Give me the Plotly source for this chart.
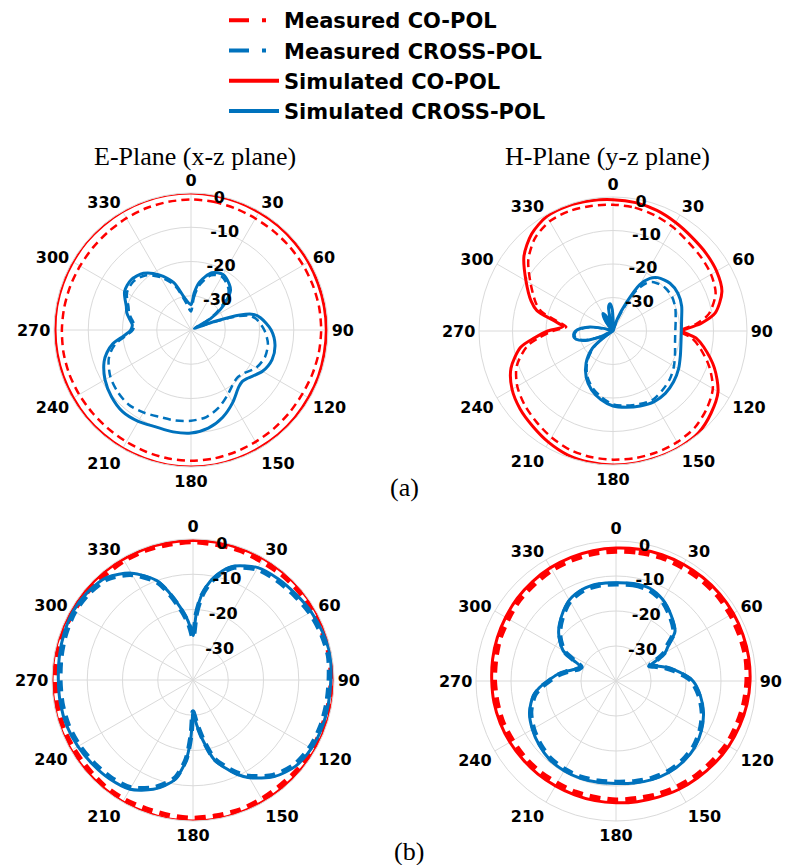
import plotly.graph_objects as go

W, H = 788, 865
RED = "#FF0000"
BLUE = "#0072BD"
GRID = "#DADADA"

# ---------------- data ----------------
ang_ticks = [0, 30, 60, 90, 120, 150, 180, 210, 240, 270, 300, 330]
ang_labels = ["0", "30", "60", "90", "120", "150", "180", "210", "240", "270", "300", "330"]
r_ticks = [-30, -20, -10, 0]
r_labels = ["-30", "-20", "-10", "0"]

theta_10 = [0, 10, 20, 30, 40, 50, 60, 70, 80, 90, 100, 110, 120, 130, 140, 150, 160, 170, 180,
            190, 200, 210, 220, 230, 240, 250, 260, 270, 280, 290, 300, 310, 320, 330, 340, 350, 360]

# (a) E-plane
ea_sim_co = [0, -0.1, -0.2, -0.3, -0.3, -0.4, -0.4, -0.5, -0.5, -0.5, -0.5, -0.4, -0.4, -0.3, -0.2, -0.2, -0.1, 0, 0,
             0, -0.1, -0.1, -0.2, -0.2, -0.3, -0.3, -0.3, -0.3, -0.2, -0.2, -0.2, -0.1, -0.1, 0, 0, 0, 0]
ea_meas_co = [-1.9, -2.0, -2.2, -2.4, -2.4, -2.3, -2.2, -2.1, -2.0, -2.0, -2.1, -2.3, -2.5, -2.5, -2.4, -2.3, -2.1, -1.9, -1.8,
              -1.9, -2.1, -2.3, -2.4, -2.4, -2.3, -2.2, -2.2, -2.3, -2.4, -2.5, -2.6, -2.6, -2.5, -2.3, -2.1, -2.0, -1.9]
ea_theta_x = [0, 5, 10, 20, 30, 40, 45, 50, 55, 60, 65, 70, 73, 76, 80, 90, 100, 110, 120, 130, 135, 140, 150, 160,
              170, 180, 190, 200, 210, 220, 230, 240, 250, 255, 260, 265, 270, 275, 280, 285, 290, 300, 310, 320,
              330, 340, 350, 360]
ea_sim_x = [-32.6, -29.0, -25.8, -22.2, -21.3, -22.6, -23.7, -26.3, -29.5, -33.5, -38.5, -33.0, -25.0, -21.2, -19.4,
            -16.6, -15.1, -14.8, -15.9, -18.2, -18.8, -18.3, -15.6, -12.9, -10.9, -9.9, -9.8, -9.9, -9.2, -8.9, -9.7,
            -11.0, -13.0, -14.6, -16.8, -20.3, -22.4, -22.8, -21.8, -20.6, -19.9, -17.6, -17.2, -18.4, -21.4, -25.3,
            -30.9, -32.6]
ea_meas_x = [-34.6, -30.5, -27.0, -23.0, -22.0, -23.3, -24.5, -27.3, -30.5, -34.5, -39.0, -34.5, -27.0, -22.6, -20.8,
             -18.6, -17.2, -17.0, -18.0, -20.2, -20.6, -20.3, -18.4, -16.0, -14.2, -13.5, -13.2, -13.0, -12.2, -11.6,
             -12.0, -12.8, -14.4, -15.8, -17.8, -21.0, -23.0, -23.4, -22.5, -21.3, -20.6, -18.4, -18.0, -19.2, -22.2,
             -26.2, -32.0, -34.6]

# (a) H-plane
ha_theta_co = [0, 10, 20, 30, 40, 50, 60, 70, 80, 85, 90, 95, 100, 110, 120, 130, 140, 150, 160, 170, 180, 190, 200,
               210, 220, 230, 240, 250, 260, 265, 270, 275, 280, 285, 290, 300, 310, 320, 330, 340, 350, 360]
ha_sim_co = [-0.8, -1.1, -1.7, -2.6, -3.4, -3.8, -4.3, -5.4, -9.0, -13.5, -19.0, -15.0, -12.5, -7.8, -3.8, -1.8, -0.3,
             0, 0, 0, 0, -0.2, -0.6, -1.6, -2.8, -3.8, -5.2, -7.6, -12.0, -16.5, -20.5, -25.0, -22.0, -16.5, -14.0,
             -10.0, -5.3, -2.2, -0.5, -0.3, -0.5, -0.8]
ha_meas_co = [-2.3, -2.6, -3.3, -4.2, -5.2, -5.7, -6.2, -7.4, -11.0, -15.0, -20.0, -16.5, -14.0, -9.5, -5.6, -3.6, -2.2,
              -1.7, -1.5, -1.5, -1.6, -1.8, -2.3, -3.3, -4.5, -5.6, -7.0, -9.4, -14.0, -18.0, -22.0, -26.0, -23.0,
              -18.0, -15.5, -11.6, -7.0, -3.8, -2.2, -1.9, -2.1, -2.3]
ha_theta_x = [0, 5, 10, 15, 20, 25, 30, 35, 40, 50, 60, 70, 80, 90, 100, 110, 120, 130, 140, 150, 160, 170, 180, 190,
              200, 210, 220, 230, 235, 240, 245, 250, 255, 260, 265, 270, 275, 280, 285, 290, 315, 320, 325, 330, 335,
              340, 343, 346, 350, 354, 358, 360]
ha_sim_x = [-36.5, -40.0, -40.0, -40.0, -36.0, -31.0, -24.0, -20.8, -19.2, -17.8, -17.6, -18.2, -19.2, -19.6, -19.4,
            -18.6, -17.4, -16.4, -15.7, -15.6, -16.2, -16.9, -17.6, -19.2, -21.3, -24.0, -27.5, -32.0, -37.0, -40.0,
            -36.0, -32.0, -29.5, -28.3, -28.2, -28.8, -30.5, -33.0, -37.0, -40.0, -40.0, -38.0, -35.5, -34.0, -35.0,
            -38.5, -40.0, -37.0, -32.5, -31.8, -33.5, -36.5]
ha_meas_x = [-37.0, -40.0, -40.0, -40.0, -37.0, -32.5, -26.0, -22.5, -21.0, -19.8, -19.6, -20.2, -21.0, -21.4, -21.2,
             -20.3, -19.0, -17.8, -17.0, -16.3, -16.8, -17.4, -18.1, -20.0, -22.0, -24.6, -28.0, -32.5, -37.0, -40.0,
             -36.5, -32.5, -30.0, -28.6, -28.5, -29.1, -31.0, -33.5, -37.5, -40.0, -40.0, -38.5, -36.0, -34.5, -35.5,
             -39.0, -40.0, -37.5, -33.0, -32.3, -34.0, -37.0]

# (b) E-plane
eb_sim_co = [-0.4, -0.3, -0.3, -0.2, -0.2, -0.1, -0.1, -0.1, 0, 0, 0, -0.1, -0.1, -0.2, -0.2, -0.2, -0.1, 0, 0,
             0, -0.1, -0.1, -0.2, -0.2, -0.1, 0, 0, 0, 0, -0.1, -0.2, -0.3, -0.3, -0.4, -0.4, -0.4, -0.4]
eb_meas_co = [-0.8, -1.0, -0.9, -1.1, -0.9, -0.8, -1.0, -0.9, -0.7, -0.8, -0.9, -1.0, -0.8, -0.9, -1.1, -1.0, -0.8, -0.9,
              -0.8, -1.0, -1.1, -0.9, -0.8, -1.0, -0.9, -0.8, -0.9, -0.9, -1.0, -0.8, -0.9, -1.0, -1.1, -0.9, -0.8,
              -0.9, -0.8]
eb_theta_x = [0, 3, 6, 10, 15, 20, 30, 40, 50, 60, 70, 80, 90, 100, 110, 120, 130, 140, 150, 155, 160, 165, 170, 175,
              178, 180, 182, 185, 190, 195, 200, 210, 220, 230, 240, 250, 260, 270, 280, 290, 300, 310, 320, 330, 340,
              345, 350, 355, 357, 360]
eb_sim_x = [-27.4, -20.5, -15.5, -11.5, -8.0, -5.6, -3.2, -2.5, -2.0, -1.3, -0.8, -0.5, -0.9, -1.0, -1.0, -1.2, -2.0,
            -4.2, -8.0, -10.5, -13.5, -16.5, -22.0, -27.0, -29.5, -30.8, -24.0, -17.0, -11.5, -9.0, -7.0, -4.2, -3.3,
            -2.8, -2.3, -1.9, -1.8, -1.8, -1.5, -1.1, -0.8, -1.1, -2.0, -5.0, -10.0, -14.5, -19.0, -23.0, -25.0, -27.4]
eb_meas_x = [-28.0, -21.0, -16.0, -12.0, -8.5, -6.0, -3.7, -3.0, -2.5, -1.8, -1.3, -1.0, -1.4, -1.5, -1.5, -1.7, -2.5,
             -4.7, -8.5, -11.0, -14.0, -17.0, -22.5, -27.5, -30.0, -31.0, -24.5, -17.5, -12.0, -9.5, -7.5, -4.7, -3.8,
             -3.3, -2.8, -2.4, -2.3, -2.3, -2.0, -1.6, -1.3, -1.6, -2.5, -5.5, -10.5, -15.0, -19.5, -23.5, -25.5, -28.0]

# (b) H-plane
hb_sim_co = [-2.0, -1.8, -1.6, -1.5, -1.4, -1.3, -1.3, -1.4, -1.5, -1.7, -2.0, -2.4, -2.8, -3.3, -3.8, -4.2, -4.7, -5.0,
             -5.2, -5.3, -5.4, -5.4, -5.3, -5.2, -5.0, -4.8, -4.6, -4.5, -4.2, -3.9, -3.6, -3.2, -2.9, -2.6, -2.4,
             -2.2, -2.0]
hb_meas_co = [-2.9, -2.7, -2.4, -2.4, -2.2, -2.1, -2.2, -2.3, -2.3, -2.6, -2.9, -3.3, -3.6, -4.2, -4.6, -5.1, -5.5, -5.9,
              -6.0, -6.2, -6.2, -6.3, -6.1, -6.0, -5.9, -5.6, -5.5, -5.3, -5.1, -4.7, -4.5, -4.0, -3.8, -3.4, -3.2,
              -3.0, -2.9]
hb_theta_x = [0, 10, 20, 30, 40, 50, 55, 60, 63, 66, 69, 72, 75, 80, 85, 90, 100, 110, 120, 130, 140, 150, 160, 170,
              180, 190, 200, 210, 220, 230, 240, 250, 260, 265, 270, 276, 280, 284, 288, 292, 296, 300, 310, 320, 330,
              340, 350, 360]
hb_sim_x = [-11.9, -11.7, -11.8, -13.2, -15.5, -18.0, -21.5, -23.8, -27.0, -29.3, -28.0, -26.5, -25.0, -22.7, -20.3,
            -18.0, -15.5, -13.4, -11.8, -10.6, -10.0, -9.8, -10.0, -10.4, -10.7, -10.6, -10.4, -10.4, -10.6, -11.4,
            -12.4, -13.7, -16.0, -18.0, -20.5, -23.0, -25.0, -27.0, -28.5, -29.0, -26.5, -22.5, -18.6, -15.8, -13.3,
            -12.1, -11.8, -11.9]
hb_meas_x = [-12.3, -12.1, -12.3, -13.6, -15.9, -18.4, -21.9, -24.2, -27.3, -29.5, -28.3, -26.9, -25.4, -23.1, -20.7,
             -18.4, -15.9, -13.8, -12.2, -11.0, -10.4, -10.2, -10.4, -10.8, -11.1, -11.0, -10.8, -10.8, -11.0, -11.8,
             -12.8, -14.1, -16.4, -18.4, -20.9, -23.4, -25.4, -27.3, -28.8, -29.3, -26.9, -22.9, -19.0, -16.2, -13.7,
             -12.5, -12.2, -12.3]

legend_names = ["Measured CO-POL", "Measured CROSS-POL", "Simulated CO-POL", "Simulated CROSS-POL"]

# ---------------- figure ----------------
fig = go.Figure()

panels = [
    ("polar", theta_10, ea_meas_co, ea_sim_co, ea_theta_x, ea_meas_x, ea_sim_x, 2.5, "8px,5px"),
    ("polar2", ha_theta_co, ha_meas_co, ha_sim_co, ha_theta_x, ha_meas_x, ha_sim_x, 2.5, "8px,5px"),
    ("polar3", theta_10, eb_meas_co, eb_sim_co, eb_theta_x, eb_meas_x, eb_sim_x, 5, "11px,7px"),
    ("polar4", theta_10, hb_meas_co, hb_sim_co, hb_theta_x, hb_meas_x, hb_sim_x, 5, "11px,7px"),
]

for sp, th_co, m_co, s_co, th_x, m_x, s_x, mw, md in panels:
    fig.add_trace(go.Scatterpolar(r=m_co, theta=th_co, mode="lines", subplot=sp, showlegend=False,
                                  line=dict(color=RED, width=mw, dash=md, shape="spline", smoothing=0.8)))
    fig.add_trace(go.Scatterpolar(r=m_x, theta=th_x, mode="lines", subplot=sp, showlegend=False,
                                  line=dict(color=BLUE, width=mw, dash=md, shape="spline", smoothing=0.8)))
    fig.add_trace(go.Scatterpolar(r=s_co, theta=th_co, mode="lines", subplot=sp, showlegend=False,
                                  line=dict(color=RED, width=3, shape="spline", smoothing=0.8)))
    fig.add_trace(go.Scatterpolar(r=s_x, theta=th_x, mode="lines", subplot=sp, showlegend=False,
                                  line=dict(color=BLUE, width=3, shape="spline", smoothing=0.8)))

# legend entries
leg_styles = [(RED, "20px,13px,4px"), (BLUE, "20px,13px,4px"), (RED, "solid"), (BLUE, "solid")]
for name, (col, dsh) in zip(legend_names, leg_styles):
    fig.add_trace(go.Scatterpolar(r=[None], theta=[None], mode="lines", subplot="polar", name=name,
                                  line=dict(color=col, width=4, dash=dsh)))

tickfont = dict(family="DejaVu Sans", size=16, color="black", weight="bold")
R_ANGLE = 84


def polar_layout(cx, cy, R):
    return dict(
        domain=dict(x=[(cx - R) / W, (cx + R) / W], y=[1 - (cy + R) / H, 1 - (cy - R) / H]),
        bgcolor="white",
        angularaxis=dict(rotation=90, direction="clockwise", tickmode="array", tickvals=ang_ticks,
                         ticktext=ang_labels, showgrid=True, gridcolor=GRID, gridwidth=1, showline=True,
                         linecolor=GRID, linewidth=1, ticks="", tickfont=tickfont),
        radialaxis=dict(range=[-40, 0], tickmode="array", tickvals=r_ticks, ticktext=r_labels, angle=R_ANGLE,
                        tickangle=R_ANGLE, side="clockwise", showline=False, ticks="", showgrid=True,
                        gridcolor=GRID, gridwidth=1, tickfont=tickfont),
    )


def label(text, x, y, size=26):
    return dict(text=text, x=x / W, y=1 - y / H, xref="paper", yref="paper", showarrow=False,
                xanchor="center", yanchor="middle",
                font=dict(family="Liberation Serif", size=size, color="black"))


fig.update_layout(
    width=W, height=H,
    margin=dict(l=0, r=0, t=0, b=0),
    paper_bgcolor="white",
    polar=polar_layout(191, 330, 137),
    polar2=polar_layout(613, 331, 134),
    polar3=polar_layout(193, 680, 141),
    polar4=polar_layout(616, 681, 140),
    showlegend=True,
    legend=dict(x=224 / W, y=1.0, xanchor="left", yanchor="top", bgcolor="rgba(0,0,0,0)",
                font=dict(family="DejaVu Sans", size=21, color="black", weight="bold"),
                itemwidth=50, tracegroupgap=0),
    annotations=[
        label("E-Plane (x-z plane)", 195, 156),
        label("H-Plane (y-z plane)", 607, 156),
        label("(a)", 404, 487),
        label("(b)", 409, 851),
    ],
)

fig.write_html("out.html")
